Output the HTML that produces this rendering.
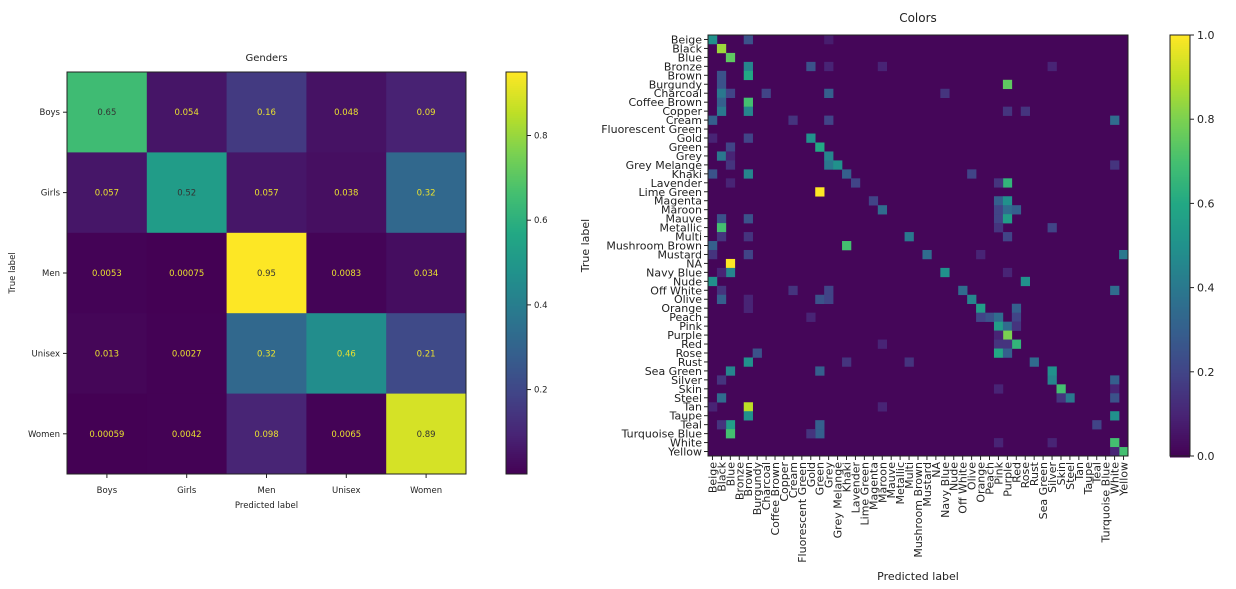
<!DOCTYPE html>
<html><head><meta charset="utf-8"><style>
body{margin:0;background:#fff;width:1236px;height:584px;overflow:hidden}
svg{font-family:"DejaVu Sans","Liberation Sans",sans-serif}
</style></head><body>
<svg id="svg" width="1236" height="584"></svg>
<script>
const genderLabels=["Boys","Girls","Men","Unisex","Women"];
const genderValues=[
[0.65,0.054,0.16,0.048,0.09],
[0.057,0.52,0.057,0.038,0.32],
[0.0053,0.00075,0.95,0.0083,0.034],
[0.013,0.0027,0.32,0.46,0.21],
[0.00059,0.0042,0.098,0.0065,0.89]];
const genderTicks=[0.2,0.4,0.6,0.8];
const colorLabels=["Beige","Black","Blue","Bronze","Brown","Burgundy","Charcoal","Coffee Brown","Copper","Cream","Fluorescent Green","Gold","Green","Grey","Grey Melange","Khaki","Lavender","Lime Green","Magenta","Maroon","Mauve","Metallic","Multi","Mushroom Brown","Mustard","NA","Navy Blue","Nude","Off White","Olive","Orange","Peach","Pink","Purple","Red","Rose","Rust","Sea Green","Silver","Skin","Steel","Tan","Taupe","Teal","Turquoise Blue","White","Yellow"];
const colorCells=[
[0,0,0.5],[0,4,0.25],[0,13,0.08],
[1,1,0.85],[2,2,0.75],
[3,4,0.45],[3,11,0.25],[3,13,0.1],[3,19,0.1],[3,38,0.1],
[4,1,0.25],[4,4,0.6],
[5,1,0.25],[5,33,0.75],
[6,1,0.4],[6,2,0.2],[6,6,0.2],[6,13,0.3],[6,26,0.15],
[7,1,0.3],[7,4,0.7],
[8,1,0.4],[8,4,0.45],[8,33,0.15],[8,35,0.15],
[9,0,0.3],[9,9,0.15],[9,13,0.2],[9,45,0.35],
[11,11,0.5],[11,4,0.2],[11,0,0.1],
[12,12,0.6],[12,2,0.2],
[13,1,0.4],[13,13,0.45],[13,2,0.1],
[14,13,0.4],[14,14,0.5],[14,2,0.15],[14,45,0.15],
[15,0,0.25],[15,4,0.45],[15,15,0.3],[15,29,0.2],
[16,16,0.2],[16,2,0.1],[16,33,0.65],[16,32,0.15],
[17,12,1.0],
[18,18,0.2],[18,32,0.3],[18,33,0.5],
[19,19,0.35],[19,32,0.2],[19,33,0.35],[19,34,0.3],
[20,1,0.25],[20,4,0.25],[20,32,0.2],[20,33,0.55],
[21,1,0.7],[21,32,0.15],[21,38,0.2],
[22,22,0.4],[22,1,0.15],[22,4,0.15],[22,33,0.2],
[23,15,0.7],[23,0,0.3],
[24,0,0.15],[24,4,0.2],[24,24,0.35],[24,30,0.1],[24,46,0.4],
[25,2,1.0],
[26,2,0.45],[26,1,0.1],[26,26,0.5],[26,33,0.1],
[27,0,0.5],[27,35,0.5],
[28,28,0.35],[28,1,0.15],[28,9,0.15],[28,13,0.2],[28,45,0.35],
[29,29,0.45],[29,1,0.3],[29,12,0.25],[29,13,0.2],[29,4,0.1],
[30,30,0.55],[30,34,0.3],[30,4,0.1],
[31,31,0.25],[31,32,0.35],[31,34,0.2],[31,30,0.2],[31,11,0.1],
[32,32,0.55],[32,33,0.35],[32,34,0.15],
[33,33,0.8],[33,32,0.1],
[34,34,0.65],[34,32,0.15],[34,33,0.15],[34,19,0.1],
[35,32,0.6],[35,33,0.3],[35,5,0.25],
[36,4,0.5],[36,15,0.15],[36,22,0.15],[36,36,0.35],
[37,2,0.45],[37,12,0.3],[37,38,0.5],
[38,38,0.45],[38,1,0.15],[38,45,0.3],
[39,39,0.7],[39,45,0.1],[39,32,0.1],
[40,40,0.4],[40,1,0.35],[40,45,0.25],[40,39,0.15],
[41,4,0.9],[41,19,0.1],[41,0,0.1],
[42,4,0.5],[42,45,0.5],
[43,2,0.55],[43,12,0.3],[43,43,0.2],[43,1,0.15],
[44,2,0.7],[44,12,0.3],[44,11,0.15],
[45,45,0.7],[45,32,0.1],[45,38,0.1],
[46,46,0.7],[46,45,0.1]];
const colorTicks=[0.0,0.2,0.4,0.6,0.8,1.0];

const V=[[68,1,84],[72,36,117],[65,68,135],[53,95,141],[42,120,142],[33,145,140],[34,168,132],[68,191,112],[122,209,81],[189,223,38],[253,231,37]];
function viridis(t){t=Math.max(0,Math.min(1,t));const p=t*10,i=Math.min(9,Math.floor(p)),f=p-i;const a=V[i],b=V[i+1];return `rgb(${a.map((v,k)=>Math.round(v+(b[k]-v)*f)).join(',')})`;}
const svg=document.getElementById('svg');const NS="http://www.w3.org/2000/svg";
function mk(tag,attrs,parent,text){const e=document.createElementNS(NS,tag);for(const k in attrs)e.setAttribute(k,attrs[k]);if(text!==undefined)e.textContent=text;(parent||svg).appendChild(e);return e;}

// ---- Genders ----
const gL=67,gT=72,gR=466,gB=474;
const gmin=0.00059,gmax=0.95;
const gcw=(gR-gL)/5,gch=(gB-gT)/5;
const gx=i=>gL+i*gcw,gy=i=>gT+i*gch;
let t=mk('text',{x:(gL+gR)/2,y:61,'text-anchor':'middle','font-size':10,fill:'#222'},svg,"Genders");

genderValues.forEach((row,r)=>row.forEach((v,c)=>{
 const rc=mk('rect',{x:gx(c),y:gy(r),width:gcw+0.5,height:gch+0.5,fill:viridis((v-gmin)/(gmax-gmin))});
 
 
 const tx=mk('text',{x:gx(c)+gcw/2,y:gy(r)+gch/2+3,'text-anchor':'middle','font-size':8.5,fill:v>(gmin+gmax)/2?'#333':'#e8e030'},svg,String(v));
 
}));
mk('rect',{x:gL,y:gT,width:gR-gL,height:gB-gT,fill:'none',stroke:'#222','stroke-width':1});
genderLabels.forEach((l,i)=>{
 mk('line',{x1:gL-4,x2:gL,y1:gy(i)+gch/2,y2:gy(i)+gch/2,stroke:'#222'});
 const a=mk('text',{x:gL-7,y:gy(i)+gch/2+3,'text-anchor':'end','font-size':8.5,fill:'#222'},svg,l);
 
 mk('line',{x1:gx(i)+gcw/2,x2:gx(i)+gcw/2,y1:gB,y2:gB+4,stroke:'#222'});
 const b=mk('text',{x:gx(i)+gcw/2,y:gB+19,'text-anchor':'middle','font-size':8.5,fill:'#222'},svg,l);
 
});
t=mk('text',{x:(gL+gR)/2,y:508,'text-anchor':'middle','font-size':8.5,fill:'#222'},svg,"Predicted label");

t=mk('text',{x:0,y:0,'text-anchor':'middle','font-size':8.5,fill:'#222',transform:`translate(15,${(gT+gB)/2}) rotate(-90)`},svg,"True label");

// colorbar
const cbL=506,cbR=527;
const gcy=v=>gB-(v-gmin)/(gmax-gmin)*(gB-gT);
for(let y=gT;y<gB;y+=2){mk('rect',{x:cbL,y:y,width:cbR-cbL,height:2.5,fill:viridis((gB-y)/(gB-gT))});}
t=mk('rect',{x:cbL,y:gT,width:cbR-cbL,height:gB-gT,fill:'none',stroke:'#222'});

genderTicks.forEach(v=>{mk('line',{x1:cbR,x2:cbR+4,y1:gcy(v),y2:gcy(v),stroke:'#222'});
 const a=mk('text',{x:cbR+7,y:gcy(v)+3,'font-size':8.5,fill:'#222'},svg,v.toFixed(1));
 });

// ---- Colors ----
const cL=708,cT=35,cR=1128,cB=456,n=colorLabels.length;
const cw=(cR-cL)/n,ch=(cB-cT)/n;
const cx=i=>cL+i*cw,cy=i=>cT+i*ch;
t=mk('rect',{x:cL,y:cT,width:cR-cL,height:cB-cT,fill:viridis(0.015)});

colorCells.forEach(([r,c,v])=>{const rc=mk('rect',{x:cx(c),y:cy(r),width:cw+0.3,height:ch+0.3,fill:viridis(v)});
 });
mk('rect',{x:cL,y:cT,width:cR-cL,height:cB-cT,fill:'none',stroke:'#222'});
t=mk('text',{x:(cL+cR)/2,y:22,'text-anchor':'middle','font-size':12,fill:'#222'},svg,"Colors");

colorLabels.forEach((l,i)=>{
 const y=cy(i)+ch/2;
 mk('line',{x1:cL-4,x2:cL,y1:y,y2:y,stroke:'#222'});
 const a=mk('text',{x:cL-6,y:y+4,'text-anchor':'end','font-size':11,fill:'#222'},svg,l);
 
 const x=cx(i)+cw/2;
 mk('line',{x1:x,x2:x,y1:cB,y2:cB+4,stroke:'#222'});
 const b=mk('text',{x:0,y:0,'text-anchor':'end','font-size':11,fill:'#222',transform:`translate(${x+4},${cB+6}) rotate(-90)`},svg,l);
 
});
t=mk('text',{x:(cL+cR)/2,y:580,'text-anchor':'middle','font-size':11,fill:'#222'},svg,"Predicted label");

t=mk('text',{x:0,y:0,'text-anchor':'middle','font-size':11,fill:'#222',transform:`translate(589,${(cT+cB)/2}) rotate(-90)`},svg,"True label");

const c2L=1170,c2R=1190;
const ccy=v=>cB-v*(cB-cT);
for(let y=cT;y<cB;y+=2){mk('rect',{x:c2L,y:y,width:c2R-c2L,height:2.5,fill:viridis((cB-y)/(cB-cT))});}
t=mk('rect',{x:c2L,y:cT,width:c2R-c2L,height:cB-cT,fill:'none',stroke:'#222'});

colorTicks.forEach(v=>{mk('line',{x1:c2R,x2:c2R+4,y1:ccy(v),y2:ccy(v),stroke:'#222'});
 const a=mk('text',{x:c2R+7,y:ccy(v)+4,'font-size':11,fill:'#222'},svg,v.toFixed(1));
 });
</script>
</body></html>
